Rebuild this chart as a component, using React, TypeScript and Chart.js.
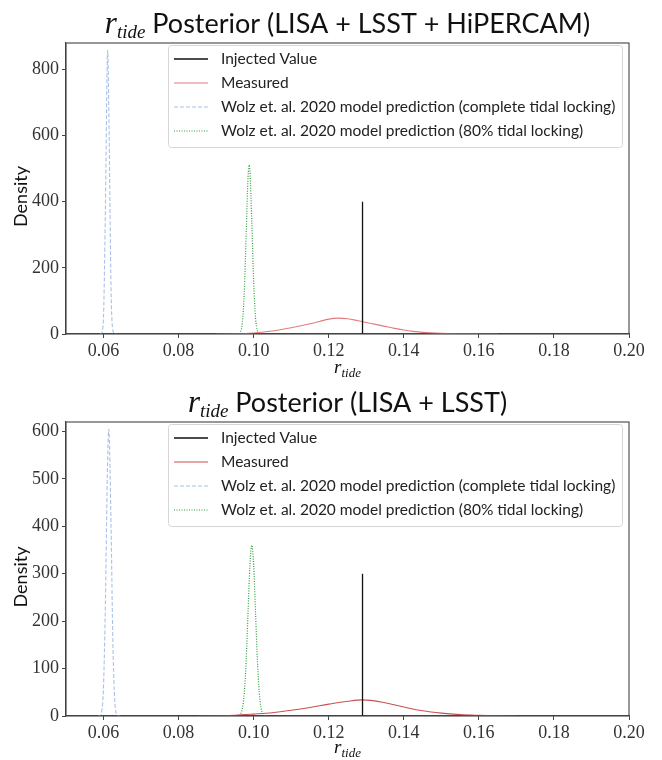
import React, { useEffect, useRef } from "react";
import { Chart, registerables } from "chart.js";

Chart.register(...registerables);

// ---------- data ----------
const X_TICKS = [0.06, 0.08, 0.1, 0.12, 0.14, 0.16, 0.18, 0.2];
const Y_TICKS_TOP = [0, 200, 400, 600, 800];
const Y_TICKS_BOTTOM = [0, 100, 200, 300, 400, 500, 600];

const INJECTED_X = 0.129;
const INJECTED_H_TOP = 400;
const INJECTED_H_BOTTOM = 300;

// Top panel (LISA + LSST + HiPERCAM)
const MEAS_TOP_X = [0.09, 0.095, 0.1, 0.105, 0.11, 0.115, 0.1175, 0.12, 0.1225, 0.125, 0.1275, 0.13, 0.1325, 0.135, 0.1375, 0.14, 0.1425, 0.145, 0.15, 0.155, 0.16, 0.165];
const MEAS_TOP_Y = [0, 0.5, 3, 9, 19, 31, 38, 45, 48, 46, 41, 35, 29, 23, 17, 12, 8, 5, 2, 0.7, 0.2, 0];
const FULL_TOP_X = [0.059, 0.0595, 0.06, 0.0605, 0.0611, 0.0615, 0.062, 0.0625, 0.063, 0.0635];
const FULL_TOP_Y = [0, 3, 55, 379, 858, 596, 137, 10, 0.2, 0];
const P80_TOP_X = [0.0955, 0.096, 0.0965, 0.097, 0.0975, 0.098, 0.0985, 0.0988, 0.099, 0.0995, 0.1, 0.1005, 0.101, 0.1015, 0.102];
const P80_TOP_Y = [0, 0.8, 6.6, 36, 127, 301, 475, 511, 494, 342, 157, 48, 9.6, 1.3, 0];

// Bottom panel (LISA + LSST)
const MEAS_BOT_X = [0.085, 0.09, 0.095, 0.1, 0.105, 0.11, 0.115, 0.12, 0.125, 0.129, 0.135, 0.14, 0.145, 0.15, 0.155, 0.16, 0.165, 0.17];
const MEAS_BOT_Y = [0, 0.5, 1.5, 4, 7, 12, 18, 25, 31, 34, 28, 19, 11, 6, 3, 1.5, 0.5, 0];
const FULL_BOT_X = [0.0585, 0.059, 0.0595, 0.06, 0.0605, 0.061, 0.0614, 0.062, 0.0625, 0.063, 0.0635, 0.064, 0.0645];
const FULL_BOT_Y = [0, 0.8, 9.6, 64, 239, 503, 605, 401, 151, 32, 3.8, 0.2, 0];
const P80_BOT_X = [0.0955, 0.096, 0.0965, 0.097, 0.0975, 0.098, 0.0985, 0.099, 0.0995, 0.1, 0.1005, 0.101, 0.1015, 0.102, 0.1025, 0.103, 0.1035];
const P80_BOT_Y = [0, 0.8, 4, 16, 49, 117, 218, 318, 360, 318, 218, 117, 49, 16, 4, 0.8, 0];

const LEGEND_LABELS = [
  "Injected Value",
  "Measured",
  "Wolz et. al. 2020 model prediction (complete tidal locking)",
  "Wolz et. al. 2020 model prediction (80% tidal locking)",
];

const W = 662;
const H = 380;
const SANS = "Lato, 'Open Sans', sans-serif";
const SERIF = "'Liberation Serif', 'DejaVu Serif', serif";

const pts = (xs: number[], ys: number[]) => xs.map((x, i) => ({ x, y: ys[i] }));

type PanelProps = {
  titleText: string;
  measX: number[];
  measY: number[];
  measColor: string;
  fullX: number[];
  fullY: number[];
  p80X: number[];
  p80Y: number[];
  injH: number;
  yMax: number;
  yTicks: number[];
  top: number;
  bottom: number;
};

function Panel(p: PanelProps) {
  const ref = useRef<HTMLCanvasElement | null>(null);
  useEffect(() => {
    if (!ref.current) return;
    const colors = ["#111111", p.measColor, "#a9c2e6", "#2e9e3a"];
    const dashes = [[], [], [4, 2], [1, 1.5]];
    const widths = [1.3, 1.1, 1.1, 1.2];

    const decor = {
      id: "decor",
      afterDraw(chart: any) {
        const ctx = chart.ctx as CanvasRenderingContext2D;
        const a = chart.chartArea;
        ctx.save();
        // frame
        ctx.strokeStyle = "#444";
        ctx.lineWidth = 1.1;
        ctx.strokeRect(a.left, a.top, a.right - a.left, a.bottom - a.top);

        // title
        const rFont = `italic 31px ${SERIF}`;
        const subFont = `italic 19px ${SERIF}`;
        const tFont = `27px ${SANS}`;
        ctx.font = rFont;
        const wr = ctx.measureText("r").width;
        ctx.font = subFont;
        const ws = ctx.measureText("tide").width;
        ctx.font = tFont;
        const wt = ctx.measureText(" " + p.titleText).width;
        const total = wr + ws + wt;
        let x0 = (a.left + a.right) / 2 - total / 2;
        const base = a.top - 10;
        ctx.fillStyle = "#111";
        ctx.textBaseline = "alphabetic";
        ctx.textAlign = "left";
        ctx.font = rFont;
        ctx.fillText("r", x0, base);
        x0 += wr;
        ctx.font = subFont;
        ctx.fillText("tide", x0, base + 5);
        x0 += ws;
        ctx.font = tFont;
        ctx.fillText(" " + p.titleText, x0, base);

        // x label
        ctx.font = `italic 19px ${SERIF}`;
        const xr = ctx.measureText("r").width;
        ctx.font = `italic 13px ${SERIF}`;
        const xs = ctx.measureText("tide").width;
        let lx = (a.left + a.right) / 2 - (xr + xs) / 2;
        const lb = 373;
        ctx.font = `italic 19px ${SERIF}`;
        ctx.fillText("r", lx, lb);
        ctx.font = `italic 13px ${SERIF}`;
        ctx.fillText("tide", lx + xr, lb + 4);

        // y label
        ctx.save();
        ctx.translate(21, (a.top + a.bottom) / 2 + 8);
        ctx.rotate(-Math.PI / 2);
        ctx.font = `18px ${SANS}`;
        ctx.textAlign = "center";
        ctx.textBaseline = "middle";
        ctx.fillText("Density", 0, 0);
        ctx.restore();

        // legend
        const bx = 168, by = a.top + 2, bw = 454, bh = 102;
        ctx.fillStyle = "rgba(255,255,255,0.8)";
        ctx.strokeStyle = "#d6d6d6";
        ctx.lineWidth = 1;
        ctx.beginPath();
        (ctx as any).roundRect(bx + 0.5, by + 0.5, bw, bh, 3);
        ctx.fill();
        ctx.stroke();
        ctx.font = `15.5px ${SANS}`;
        ctx.textAlign = "left";
        ctx.textBaseline = "middle";
        LEGEND_LABELS.forEach((lab, i) => {
          const yy = by + 14 + 24 * i;
          ctx.strokeStyle = colors[i];
          ctx.lineWidth = widths[i];
          ctx.setLineDash(dashes[i]);
          ctx.beginPath();
          ctx.moveTo(174, yy);
          ctx.lineTo(208, yy);
          ctx.stroke();
          ctx.setLineDash([]);
          ctx.fillStyle = "#222";
          ctx.fillText(lab, 221, yy);
        });
        ctx.restore();
      },
    };

    const chart = new Chart(ref.current, {
      type: "line",
      data: {
        datasets: [
          {
            label: LEGEND_LABELS[0],
            data: [
              { x: INJECTED_X, y: 0 },
              { x: INJECTED_X, y: p.injH },
            ],
            borderColor: colors[0],
            borderWidth: widths[0],
            pointRadius: 0,
          },
          {
            label: LEGEND_LABELS[1],
            data: pts(p.measX, p.measY),
            borderColor: colors[1],
            borderWidth: widths[1],
            pointRadius: 0,
            cubicInterpolationMode: "monotone",
          },
          {
            label: LEGEND_LABELS[2],
            data: pts(p.fullX, p.fullY),
            borderColor: colors[2],
            borderWidth: widths[2],
            borderDash: dashes[2],
            pointRadius: 0,
            cubicInterpolationMode: "monotone",
          },
          {
            label: LEGEND_LABELS[3],
            data: pts(p.p80X, p.p80Y),
            borderColor: colors[3],
            borderWidth: widths[3],
            borderDash: dashes[3],
            pointRadius: 0,
            cubicInterpolationMode: "monotone",
          },
        ],
      },
      options: {
        animation: false,
        responsive: false,
        maintainAspectRatio: false,
        layout: { padding: { top: p.top, right: W - 629, left: 0, bottom: 0 } },
        plugins: { legend: { display: false }, tooltip: { enabled: false }, title: { display: false } },
        scales: {
          x: {
            type: "linear",
            min: 0.05,
            max: 0.2,
            afterBuildTicks: (s: any) => {
              s.ticks = X_TICKS.map((v) => ({ value: v }));
            },
            afterFit: (s: any) => {
              s.height = H - p.bottom;
            },
            grid: { drawOnChartArea: false, drawTicks: true, tickLength: 4, color: "#444" },
            border: { display: true, color: "#444", width: 1.1 },
            ticks: {
              font: { family: SERIF, size: 18 },
              color: "#333",
              padding: 2,
              maxRotation: 0,
              callback: (v: any) => Number(v).toFixed(2),
            },
          },
          y: {
            type: "linear",
            min: 0,
            max: p.yMax,
            afterBuildTicks: (s: any) => {
              s.ticks = p.yTicks.map((v) => ({ value: v }));
            },
            afterFit: (s: any) => {
              s.width = 66;
            },
            grid: { drawOnChartArea: false, drawTicks: true, tickLength: 4, color: "#444" },
            border: { display: true, color: "#444", width: 1.1 },
            ticks: {
              font: { family: SERIF, size: 18 },
              color: "#333",
              padding: 3,
              callback: (v: any) => String(v),
            },
          },
        },
      },
      plugins: [decor],
    } as any);
    return () => chart.destroy();
  }, []);
  return (
    <div style={{ width: W, height: H }}>
      <canvas ref={ref} width={W} height={H} style={{ width: W, height: H, display: "block" }} />
    </div>
  );
}

export default function App() {
  return (
    <div style={{ position: "absolute", left: 0, top: 0, width: W, height: 760, background: "#fff" }}>
      <Panel
        titleText="Posterior (LISA + LSST + HiPERCAM)"
        measX={MEAS_TOP_X}
        measY={MEAS_TOP_Y}
        measColor="#e27c7c"
        fullX={FULL_TOP_X}
        fullY={FULL_TOP_Y}
        p80X={P80_TOP_X}
        p80Y={P80_TOP_Y}
        injH={INJECTED_H_TOP}
        yMax={880}
        yTicks={Y_TICKS_TOP}
        top={43}
        bottom={334}
      />
      <Panel
        titleText="Posterior (LISA + LSST)"
        measX={MEAS_BOT_X}
        measY={MEAS_BOT_Y}
        measColor="#c9504f"
        fullX={FULL_BOT_X}
        fullY={FULL_BOT_Y}
        p80X={P80_BOT_X}
        p80Y={P80_BOT_Y}
        injH={INJECTED_H_BOTTOM}
        yMax={620}
        yTicks={Y_TICKS_BOTTOM}
        top={42}
        bottom={336}
      />
    </div>
  );
}
